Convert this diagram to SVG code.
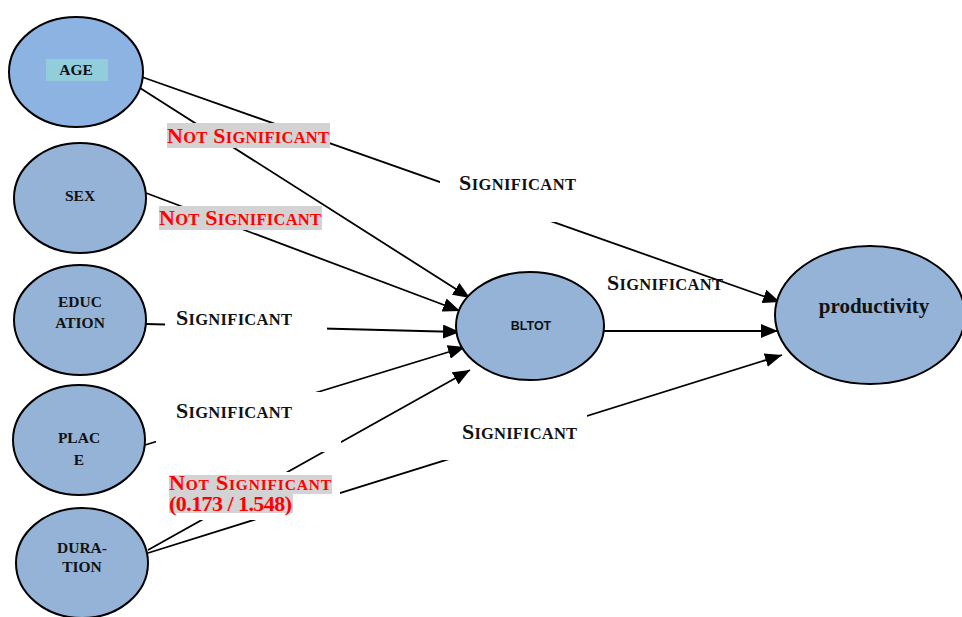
<svg xmlns="http://www.w3.org/2000/svg" width="962" height="617" viewBox="0 0 962 617">
<style>
.node{fill:#95b3d7;stroke:#000;stroke-width:2}
.nt{font-family:"Liberation Serif","Times New Roman",serif;font-weight:bold;font-size:15.5px;fill:#111;text-anchor:middle}
.ln{stroke:#000;stroke-width:1.8;fill:none;marker-end:url(#ah)}
.sig{font-family:"Liberation Serif","Times New Roman",serif;font-weight:bold;font-size:22px;fill:#111}
.sm{font-size:16.5px}
.red{fill:#ff0000}
.wb{fill:#fff}
.gb{fill:#d3d3d3}
</style>
<defs>
<marker id="ah" markerWidth="18" markerHeight="14" refX="17" refY="7" orient="auto" markerUnits="userSpaceOnUse">
<path d="M0,0 L17,7 L0,14 z" fill="#000"/>
</marker>
</defs>
<rect width="962" height="617" fill="#fff"/>

<g id="connectors">
<line class="ln" x1="142" y1="77" x2="780" y2="302"/>
<line class="ln" x1="140" y1="88" x2="470" y2="298"/>
<line class="ln" x1="146" y1="193" x2="460" y2="311"/>
<line class="ln" x1="146" y1="324" x2="460" y2="332"/>
<line class="ln" x1="145" y1="445" x2="465" y2="347"/>
<line class="ln" x1="148" y1="550" x2="470" y2="370"/>
<line class="ln" x1="148" y1="553" x2="782" y2="355"/>
<line class="ln" x1="604" y1="331" x2="778" y2="331"/>
</g>

<g id="label-age-prod">
<rect class="wb" x="440" y="165" width="150" height="57"/>
<text class="sig" x="459" y="190" textLength="117" lengthAdjust="spacing">S<tspan class="sm">IGNIFICANT</tspan></text>
</g>
<g id="label-age-bltot">
<rect class="gb" x="167" y="123" width="163" height="25"/>
<text class="sig red" x="167" y="143" textLength="162" lengthAdjust="spacing">N<tspan class="sm">OT</tspan> S<tspan class="sm">IGNIFICANT</tspan></text>
</g>
<g id="label-sex-bltot">
<rect class="gb" x="159" y="206" width="163" height="24"/>
<text class="sig red" x="159" y="225" textLength="162" lengthAdjust="spacing">N<tspan class="sm">OT</tspan> S<tspan class="sm">IGNIFICANT</tspan></text>
</g>
<g id="label-educ-bltot">
<rect class="wb" x="165" y="306" width="162" height="32"/>
<text class="sig" x="176" y="325" textLength="116" lengthAdjust="spacing">S<tspan class="sm">IGNIFICANT</tspan></text>
</g>
<g id="label-place-bltot">
<rect class="wb" x="156" y="392" width="185" height="60"/>
<text class="sig" x="176" y="418" textLength="116" lengthAdjust="spacing">S<tspan class="sm">IGNIFICANT</tspan></text>
</g>
<g id="label-dur-prod">
<rect class="wb" x="442" y="415" width="145" height="45"/>
<text class="sig" x="462" y="439" textLength="115" lengthAdjust="spacing">S<tspan class="sm">IGNIFICANT</tspan></text>
</g>
<g id="label-dur-bltot">
<rect class="wb" x="168" y="472" width="172" height="48"/>
<rect class="gb" x="169" y="475" width="163" height="19"/>
<rect class="gb" x="169" y="494" width="124" height="19"/>
<text class="sig red" x="169" y="490" font-size="20" textLength="162" lengthAdjust="spacing">N<tspan font-size="15.5">OT</tspan> S<tspan font-size="15.5">IGNIFICANT</tspan></text>
<text class="sig red" x="169" y="511" font-size="19" textLength="123" lengthAdjust="spacing">(0.173 / 1.548)</text>
</g>
<g id="label-bltot-prod">
<text class="sig" x="607" y="290" textLength="116" lengthAdjust="spacing">S<tspan class="sm">IGNIFICANT</tspan></text>
</g>

<g id="node-age">
<ellipse class="node" cx="76" cy="72" rx="67" ry="55" style="fill:#8db3e2"/>
<rect x="46" y="59" width="62" height="22" fill="#92cddc"/>
<text class="nt" x="76" y="75">AGE</text>
</g>
<g id="node-sex">
<ellipse class="node" cx="80" cy="198" rx="66" ry="55"/>
<text class="nt" x="80" y="201">SEX</text>
</g>
<g id="node-education">
<ellipse class="node" cx="80" cy="320" rx="66" ry="55"/>
<text class="nt" x="80" y="307">EDUC</text>
<text class="nt" x="80" y="328">ATION</text>
</g>
<g id="node-place">
<ellipse class="node" cx="79" cy="440" rx="66" ry="55"/>
<text class="nt" x="79" y="443">PLAC</text>
<text class="nt" x="79" y="465">E</text>
</g>
<g id="node-duration">
<ellipse class="node" cx="82" cy="563" rx="66" ry="55"/>
<text class="nt" x="82" y="553">DURA-</text>
<text class="nt" x="82" y="572">TION</text>
</g>
<g id="node-bltot">
<ellipse class="node" cx="530" cy="326" rx="74" ry="54"/>
<text x="531" y="330" text-anchor="middle" font-family="'Liberation Sans',Arial,sans-serif" font-weight="bold" font-size="12.5" fill="#111">BLTOT</text>
</g>
<g id="node-productivity">
<ellipse class="node" cx="870" cy="315" rx="95" ry="69"/>
<text x="874" y="313" text-anchor="middle" font-family="'Liberation Serif','Times New Roman',serif" font-weight="bold" font-size="21" fill="#111">productivity</text>
</g>
</svg>
